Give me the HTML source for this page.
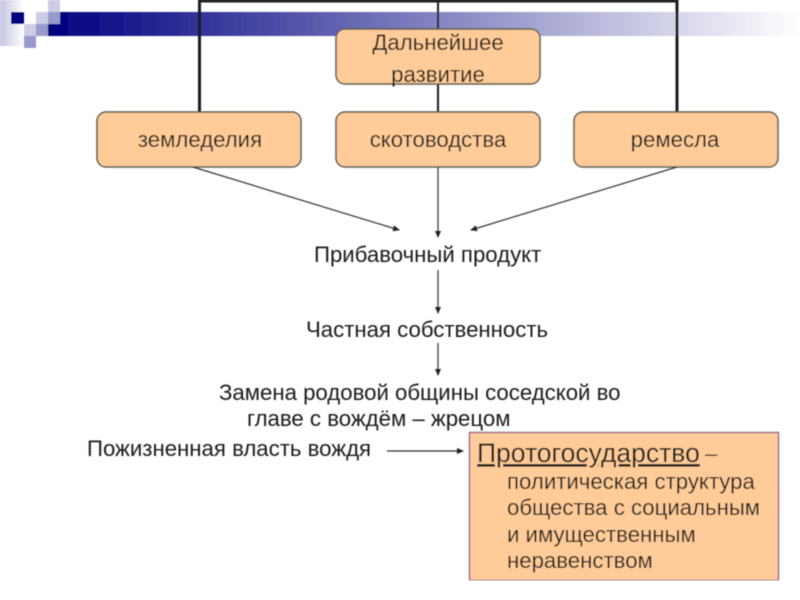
<!DOCTYPE html>
<html>
<head>
<meta charset="utf-8">
<style>
html,body{margin:0;padding:0;background:#fff;width:800px;height:600px;overflow:hidden}
svg{display:block}
text{font-family:"Liberation Sans",sans-serif;font-size:22.200px;fill:#1a1a1a}
</style>
</head>
<body>
<svg width="800" height="600" viewBox="0 0 800 600" xmlns="http://www.w3.org/2000/svg">
<defs>
<linearGradient id="band" x1="0" x2="1" y1="0" y2="0">
<stop offset="0" stop-color="#000080"/>
<stop offset="1" stop-color="#ffffff"/>
</linearGradient>
<linearGradient id="side" x1="0" x2="1" y1="0" y2="0">
<stop offset="0" stop-color="#c4c4e0"/>
<stop offset="1" stop-color="#ffffff"/>
</linearGradient>
<marker id="a" markerWidth="7" markerHeight="6" refX="6" refY="3" orient="auto" markerUnits="userSpaceOnUse">
<path d="M0,0 L7,3 L0,6 Z" fill="#222"/>
</marker>
<filter id="soft" x="0" y="0" width="100%" height="100%"><feGaussianBlur stdDeviation="0.4"/></filter>
</defs>

<g filter="url(#soft)">
<rect x="0" y="0" width="24" height="46" fill="url(#side)"/>
<rect x="48" y="12" width="752" height="24" fill="url(#band)"/>
<rect x="11" y="12" width="13" height="12" fill="#000080"/>
<rect x="24" y="24" width="12" height="12" fill="#ccccE6"/>
<rect x="24" y="36" width="12" height="12" fill="#9999cc"/>
<rect x="36" y="12" width="12" height="12" fill="#ccccE6"/>
<rect x="36" y="24" width="12" height="12" fill="#9999cc"/>
<rect x="48" y="0" width="12" height="12" fill="#ccccE6"/>
<rect x="48" y="12" width="12" height="12" fill="#9999cc"/>

<g stroke="#1a1a1a" stroke-width="3" fill="none">
<path d="M199.500,112 V1 H677 V112"/>
<path d="M438,1 V29" stroke-width="2"/>
<path d="M438,84 V112" stroke-width="2"/>
</g>

<g fill="#ffcc99" stroke="#5a5a50" stroke-width="1.500">
<rect x="336" y="29" width="204" height="55" rx="9"/>
<rect x="97" y="112" width="204" height="55" rx="9"/>
<rect x="336" y="112" width="204" height="55" rx="9"/>
<rect x="574" y="112" width="204" height="55" rx="9"/>
</g>

<g text-anchor="middle">
<text x="438" y="50">Дальнейшее</text>
<text x="438" y="82">развитие</text>
<text x="200" y="147">земледелия</text>
<text x="438" y="147">скотоводства</text>
<text x="675" y="147">ремесла</text>
</g>

<g stroke="#333" stroke-width="1.200" fill="none" marker-end="url(#a)">
<line x1="193" y1="167" x2="399" y2="230"/>
<line x1="438" y1="167" x2="438" y2="237"/>
<line x1="677" y1="167" x2="471" y2="230"/>
<line x1="438" y1="270" x2="438" y2="313"/>
<line x1="438" y1="343" x2="438" y2="375"/>
<line x1="387" y1="451" x2="463" y2="451"/>
</g>

<text x="314" y="262">Прибавочный продукт</text>
<text x="306" y="337">Частная собственность</text>
<text x="219" y="400">Замена родовой общины соседской во</text>
<text x="247" y="426">главе с вождём – жрецом</text>
<text x="87" y="456">Пожизненная власть вождя</text>

<rect x="469.500" y="432.500" width="309" height="148" fill="#ffcc99" stroke="#a06a90" stroke-width="1.500"/>
<text x="477" y="462" style="font-size:26.500px" text-decoration="underline">Протогосударство</text>
<text x="705" y="461" style="font-size:22px">–</text>
<text x="507" y="489">политическая структура</text>
<text x="507" y="515">общества с социальным</text>
<text x="507" y="542">и имущественным</text>
<text x="507" y="568">неравенством</text>
</g>
</svg>
</body>
</html>
